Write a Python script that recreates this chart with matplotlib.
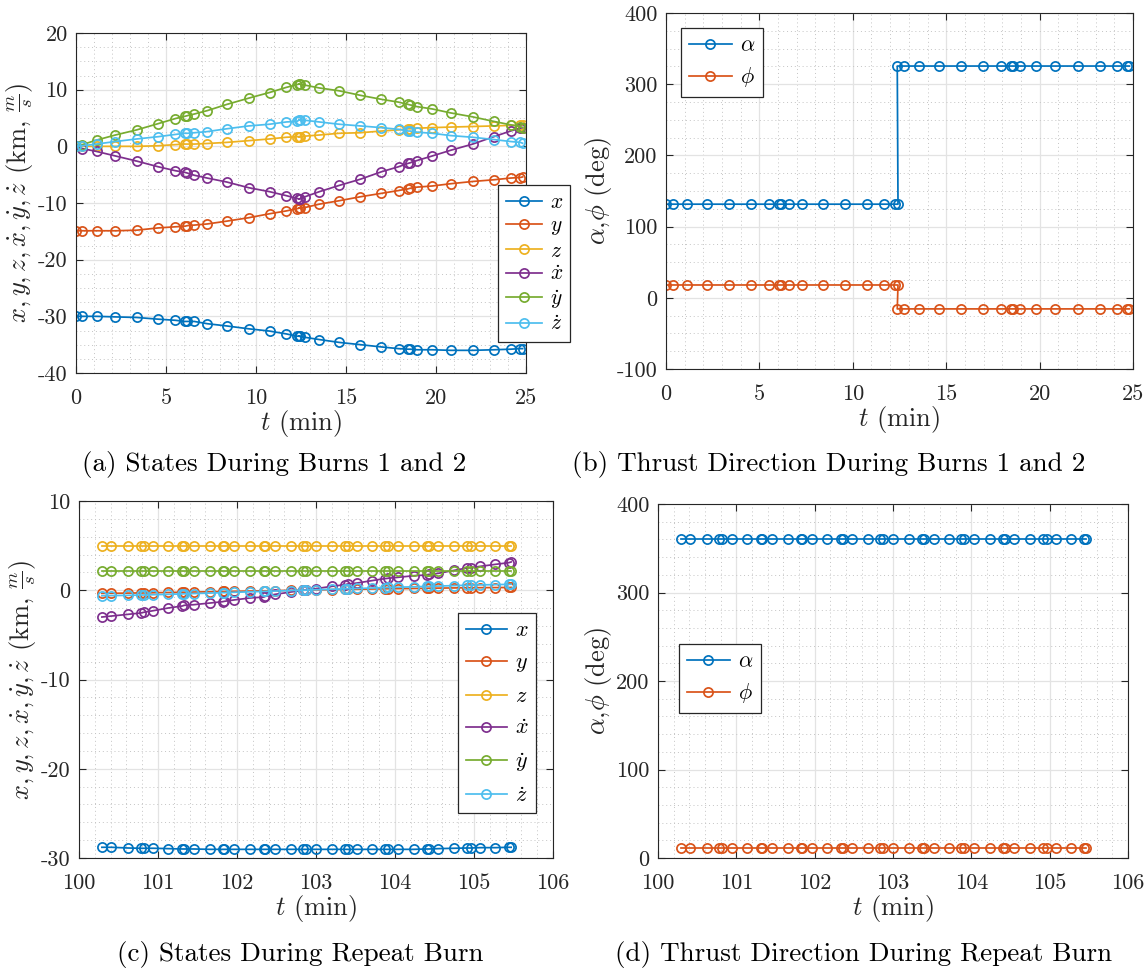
import matplotlib
matplotlib.use("Agg")
import matplotlib.pyplot as plt
from matplotlib.ticker import MultipleLocator, FuncFormatter

plt.rcParams['font.family'] = 'cmr10'
plt.rcParams['mathtext.fontset'] = 'cm'
plt.rcParams['axes.unicode_minus'] = False

# MATLAB default line colours
colors = ['#0072BD', '#D95319', '#EDB120', '#7E2F8E', '#77AC30', '#4DBEEE']
state_labels = [r'$x$', r'$y$', r'$z$', r'$\dot{x}$', r'$\dot{y}$', r'$\dot{z}$']
angle_labels = [r'$\alpha$', r'$\phi$']

# burns 1 and 2 (min)
t_burn = [0, 0.35, 1.14, 2.19, 3.37, 4.56, 5.52, 6.05, 6.17, 6.57, 7.29, 8.38, 9.59, 10.75, 11.68, 12.28, 12.42,
          12.38, 12.72, 13.52, 14.62, 15.8, 16.96, 17.92, 18.45, 18.57, 18.95, 19.79, 20.81, 22.04, 23.21, 24.14, 24.68, 24.81]
x_burn = [-30, -30, -30, -30.1, -30.2, -30.5, -30.7, -30.9, -30.9, -30.9, -31.3, -31.7, -32.2, -32.6, -33.1, -33.5, -33.5,
          -33.5, -33.7, -34.1, -34.6, -35.0, -35.4, -35.7, -35.8, -35.8, -35.9, -35.9, -36.0, -36.0, -35.9, -35.8, -35.7, -35.7]
y_burn = [-14.9, -14.9, -14.9, -14.9, -14.8, -14.4, -14.2, -14.1, -14.0, -13.9, -13.7, -13.2, -12.6, -11.9, -11.4, -11.0, -10.9,
          -10.9, -10.8, -10.2, -9.6, -8.9, -8.3, -7.8, -7.5, -7.4, -7.2, -7.0, -6.6, -6.2, -5.9, -5.6, -5.5, -5.4]
z_burn = [0, 0, 0, 0, 0, 0.1, 0.3, 0.4, 0.4, 0.4, 0.5, 0.7, 1.0, 1.3, 1.6, 1.7, 1.7,
          1.7, 1.8, 2.0, 2.3, 2.4, 2.7, 2.9, 3.1, 3.1, 3.2, 3.3, 3.4, 3.5, 3.6, 3.7, 3.7, 3.8]
xd_burn = [0, -0.4, -0.9, -1.7, -2.6, -3.6, -4.3, -4.6, -4.7, -5.1, -5.6, -6.3, -7.3, -8.0, -8.7, -9.2, -9.3,
           -9.3, -8.9, -8.0, -6.9, -5.8, -4.5, -3.6, -3.0, -2.9, -2.5, -1.7, -0.7, 0.4, 1.7, 2.7, 3.2, 3.3]
yd_burn = [0, 0.3, 1.1, 2.0, 2.9, 4.0, 4.9, 5.3, 5.4, 5.7, 6.3, 7.4, 8.5, 9.5, 10.4, 10.9, 11.0,
           11.0, 10.8, 10.3, 9.8, 9.0, 8.3, 7.8, 7.4, 7.3, 7.0, 6.6, 5.9, 5.2, 4.4, 3.8, 3.5, 3.3]
zd_burn = [0, 0.1, 0.4, 0.85, 1.3, 1.7, 2.1, 2.3, 2.3, 2.4, 2.6, 3.1, 3.6, 3.9, 4.3, 4.4, 4.7,
           4.7, 4.6, 4.3, 3.9, 3.6, 3.3, 3.0, 2.7, 2.7, 2.5, 2.3, 1.9, 1.6, 1.2, 0.85, 0.7, 0.55]
alpha_burn = [131.5, 131.5, 131.5, 131.5, 131.5, 131.5, 131.5, 131.5, 131.5, 131.5, 131.5, 131.5, 131.5, 131.5, 131.5, 131.5, 131.5,
              325.5, 325.5, 325.5, 325.5, 325.5, 325.5, 325.5, 325.5, 325.5, 325.5, 325.5, 325.5, 325.5, 325.5, 325.5, 325.5, 325.5]
phi_burn = [18, 18, 18, 18, 18, 18, 18, 18, 18, 18, 18, 18, 18, 18, 18, 18, 18,
            -15.6, -15.6, -15.6, -15.6, -15.6, -15.6, -15.6, -15.6, -15.6, -15.6, -15.6, -15.6, -15.6, -15.6, -15.6, -15.6, -15.6]

# repeat burn (min)
t_rep = [100.29, 100.41, 100.62, 100.78, 100.82, 100.94, 101.13, 101.31, 101.33, 101.45, 101.66, 101.82, 101.84, 101.96,
         102.16, 102.34, 102.36, 102.48, 102.68, 102.84, 102.87, 103.00, 103.20, 103.37, 103.40, 103.52, 103.71, 103.87,
         103.91, 104.04, 104.24, 104.40, 104.43, 104.55, 104.75, 104.91, 104.96, 105.08, 105.27, 105.44, 105.47]
x_rep = [-28.80, -28.80, -28.88, -28.91, -28.91, -28.91, -28.95, -28.99, -28.99, -28.99, -29.03, -29.03, -29.03, -29.03,
         -29.03, -29.03, -29.03, -29.03, -29.03, -29.03, -29.03, -29.03, -29.03, -29.03, -29.03, -29.03, -29.03, -29.03,
         -29.03, -29.03, -29.03, -28.99, -28.99, -28.95, -28.91, -28.88, -28.88, -28.84, -28.84, -28.80, -28.80]
y_rep = [-0.35, -0.34, -0.32, -0.30, -0.30, -0.28, -0.25, -0.22, -0.22, -0.20, -0.17, -0.14, -0.14, -0.12,
         -0.09, -0.06, -0.06, -0.04, -0.01, 0.01, 0.02, 0.04, 0.07, 0.09, 0.10, 0.11, 0.14, 0.16,
         0.17, 0.18, 0.20, 0.22, 0.23, 0.24, 0.26, 0.28, 0.28, 0.29, 0.30, 0.31, 0.32]
z_rep = [5.0, 5.0, 5.0, 5.0, 5.0, 5.0, 5.0, 5.0, 5.0, 5.0, 5.0, 5.0, 5.0, 5.0,
         5.0, 5.0, 5.0, 5.0, 5.0, 5.0, 5.0, 5.0, 5.0, 5.0, 5.0, 5.0, 5.0, 5.0,
         5.0, 5.0, 5.0, 5.0, 5.0, 5.0, 5.0, 5.0, 5.0, 5.0, 5.0, 5.0, 5.0]
xd_rep = [-3.00, -2.89, -2.70, -2.55, -2.47, -2.29, -1.99, -1.76, -1.69, -1.62, -1.43, -1.28, -1.24, -1.09,
          -0.87, -0.76, -0.68, -0.46, -0.20, -0.01, 0.06, 0.18, 0.44, 0.63, 0.70, 0.81, 1.08, 1.30,
          1.34, 1.45, 1.63, 1.71, 1.78, 1.90, 2.23, 2.49, 2.53, 2.68, 2.90, 3.09, 3.17]
yd_rep = [2.2, 2.2, 2.2, 2.2, 2.2, 2.2, 2.2, 2.2, 2.2, 2.2, 2.2, 2.2, 2.2, 2.2,
          2.2, 2.2, 2.2, 2.2, 2.2, 2.2, 2.2, 2.2, 2.2, 2.2, 2.2, 2.2, 2.2, 2.2,
          2.2, 2.2, 2.2, 2.2, 2.2, 2.2, 2.2, 2.2, 2.2, 2.2, 2.2, 2.2, 2.2]
zd_rep = [-0.62, -0.60, -0.57, -0.54, -0.53, -0.50, -0.46, -0.41, -0.40, -0.37, -0.32, -0.27, -0.27, -0.23,
          -0.18, -0.13, -0.12, -0.09, -0.03, 0.01, 0.02, 0.06, 0.11, 0.16, 0.17, 0.20, 0.25, 0.30,
          0.31, 0.34, 0.39, 0.43, 0.44, 0.47, 0.52, 0.56, 0.57, 0.60, 0.63, 0.66, 0.67]
alpha_rep = [360, 360, 360, 360, 360, 360, 360, 360, 360, 360, 360, 360, 360, 360,
             360, 360, 360, 360, 360, 360, 360, 360, 360, 360, 360, 360, 360, 360,
             360, 360, 360, 360, 360, 360, 360, 360, 360, 360, 360, 360, 360]
phi_rep = [11, 11, 11, 11, 11, 11, 11, 11, 11, 11, 11, 11, 11, 11,
           11, 11, 11, 11, 11, 11, 11, 11, 11, 11, 11, 11, 11, 11,
           11, 11, 11, 11, 11, 11, 11, 11, 11, 11, 11, 11, 11]

W, H = 1148, 976
fig = plt.figure(figsize=(W / 100, H / 100), dpi=100)

DARK = '#262626'
LINE_KW = dict(marker='o', markersize=6.6, markerfacecolor='none', markeredgewidth=1.25, linewidth=1.25)


def px_axes(left, top, right, bottom):
    return fig.add_axes([left / W, 1 - bottom / H, (right - left) / W, (bottom - top) / H])


def style(ax, xlim, ylim, xmaj, xmin, ymaj, ymin):
    ax.set_xlim(*xlim)
    ax.set_ylim(*ylim)
    ax.xaxis.set_major_locator(MultipleLocator(xmaj))
    ax.xaxis.set_minor_locator(MultipleLocator(xmin))
    ax.yaxis.set_major_locator(MultipleLocator(ymaj))
    ax.yaxis.set_minor_locator(MultipleLocator(ymin))
    fmt = FuncFormatter(lambda v, p: '%g' % v)
    ax.xaxis.set_major_formatter(fmt)
    ax.yaxis.set_major_formatter(fmt)
    ax.grid(which='major', color='#e3e3e3', linewidth=0.9, linestyle='-')
    ax.grid(which='minor', color='#c4c4c4', linewidth=0.7, linestyle=(0, (1, 3)))
    ax.set_axisbelow(True)
    ax.tick_params(which='major', direction='in', length=5, width=0.8, color=DARK,
                   top=True, right=True, labelsize=16, labelcolor=DARK)
    ax.tick_params(axis='x', which='major', pad=11)
    ax.tick_params(axis='y', which='major', pad=6)
    ax.tick_params(which='minor', length=0)
    for s in ax.spines.values():
        s.set_color(DARK)
        s.set_linewidth(0.8)
    ax.set_xlabel(r'$t$ (min)', fontsize=19, color=DARK, labelpad=0)


def legend(ax, handles, labels, left, top, size, spacing, hlen=1.95):
    leg = ax.legend(handles, labels, loc='upper left', bbox_to_anchor=(left / W, 1 - top / H),
                    bbox_transform=fig.transFigure, borderaxespad=0, fontsize=size, labelspacing=spacing,
                    handlelength=hlen, handletextpad=0.35, borderpad=0.35, fancybox=False, framealpha=1)
    leg.get_frame().set_edgecolor(DARK)
    leg.get_frame().set_linewidth(0.9)


state_ylabel = r'$x, y, z, \dot{x}, \dot{y}, \dot{z}$ (km, $\frac{m}{s}$)'
angle_ylabel = r'$\alpha$,$\phi$ (deg)'

# (a) states during burns 1 and 2
ax = px_axes(76, 33, 526, 373)
style(ax, (0, 25), (-40, 20), 5, 1, 10, 2.5)
lines = []
for vals, c in zip([x_burn, y_burn, z_burn, xd_burn, yd_burn, zd_burn], colors):
    lines += ax.plot(t_burn, vals, color=c, **LINE_KW)
ax.set_ylabel(state_ylabel, fontsize=19, color=DARK, labelpad=2)
legend(ax, lines, state_labels, 498, 185, 15.5, 0.18, hlen=1.7)

# (b) thrust direction during burns 1 and 2
ax = px_axes(666, 13, 1133, 369)
style(ax, (0, 25), (-100, 400), 5, 1, 100, 25)
lines = []
for vals, c in zip([alpha_burn, phi_burn], colors):
    lines += ax.plot(t_burn, vals, color=c, **LINE_KW)
ax.set_ylabel(angle_ylabel, fontsize=19, color=DARK, labelpad=2)
legend(ax, lines, angle_labels, 681, 28, 16, 0.45)

# (c) states during repeat burn
ax = px_axes(79, 501, 553, 858)
style(ax, (100, 106), (-30, 10), 1, 0.2, 10, 2)
lines = []
for vals, c in zip([x_rep, y_rep, z_rep, xd_rep, yd_rep, zd_rep], colors):
    lines += ax.plot(t_rep, vals, color=c, **LINE_KW)
ax.set_ylabel(state_ylabel, fontsize=19, color=DARK, labelpad=2)
legend(ax, lines, state_labels, 458, 613, 16, 0.56, hlen=1.85)

# (d) thrust direction during repeat burn
ax = px_axes(658, 504, 1128, 858)
style(ax, (100, 106), (0, 400), 1, 0.2, 100, 20)
lines = []
for vals, c in zip([alpha_rep, phi_rep], colors):
    lines += ax.plot(t_rep, vals, color=c, **LINE_KW)
ax.set_ylabel(angle_ylabel, fontsize=19, color=DARK, labelpad=2)
legend(ax, lines, angle_labels, 679, 644, 16, 0.45)

captions = [(274, 465, '(a) States During Burns 1 and 2'),
            (829, 465, '(b) Thrust Direction During Burns 1 and 2'),
            (300, 955, '(c) States During Repeat Burn'),
            (864, 955, '(d) Thrust Direction During Repeat Burn')]
for cx, cy, txt in captions:
    fig.text(cx / W, 1 - cy / H, txt, ha='center', va='center', fontsize=19.5, color='black')

fig.savefig('out.png', dpi=100)
